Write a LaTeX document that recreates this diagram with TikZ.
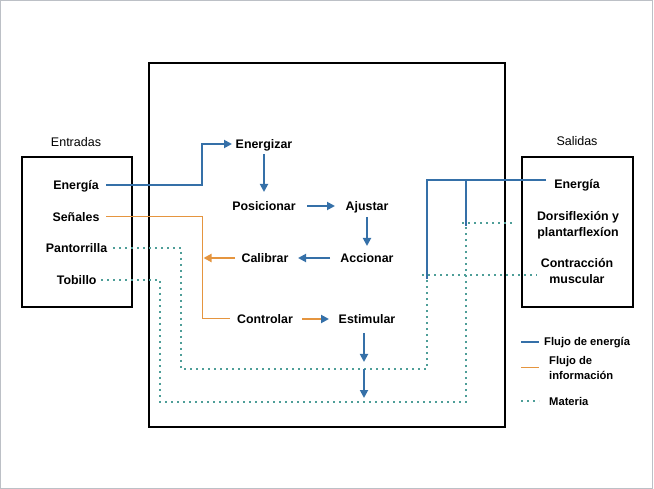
\documentclass[tikz,border=0pt]{standalone}
\usepackage{fontspec}
\setmainfont{Liberation Sans}
\usetikzlibrary{arrows.meta}
\definecolor{eblue}{HTML}{3570A8}
\definecolor{iorange}{HTML}{E5953F}
\definecolor{mteal}{HTML}{4E9E98}
\definecolor{framegray}{HTML}{BCC0C6}
\begin{document}
\begin{tikzpicture}[x=1pt,y=-1pt,
  lbl/.style={font=\bfseries\fontsize{12.4}{16}\selectfont, inner sep=0pt, text height=9pt, text depth=0pt},
  lbltwo/.style={font=\bfseries\fontsize{12.4}{16}\selectfont, inner sep=0pt, align=center},
  leg/.style={font=\bfseries\fontsize{11.2}{15}\selectfont, inner sep=0pt, anchor=west, align=left},
  hand/.style={font=\fontsize{12.5}{14}\selectfont, inner sep=0pt},
  boxline/.style={draw=black, line width=2.2pt},
  en/.style={draw=eblue, line width=1.8pt},
  inf/.style={draw=iorange, line width=1pt},
  infb/.style={draw=iorange, line width=2pt},
  mat/.style={draw=mteal, line width=1.8pt, dash pattern=on 1.8pt off 4.2pt},
  tip/.style={-{Triangle[length=8pt,width=8pt]}},
]
\useasboundingbox (0,0) rectangle (654,489);
\draw[framegray, line width=1.2pt] (0.6,0.6) rectangle (652.8,488.4);

% boxes
\draw[boxline] (148.7,63) rectangle (505,427);
\draw[boxline] (21.7,157) rectangle (131.7,306.7);
\draw[boxline] (522.3,157) rectangle (633,306.7);

% headings
\node[hand] (hin) at (76,142) {Entradas};
\node[hand] (hout) at (577,141) {Salidas};

% inputs
\node[lbl] (eIn) at (76,185) {Energía};
\node[lbl] (sIn) at (76,217) {Señales};
\node[lbl] (pIn) at (76.5,248) {Pantorrilla};
\node[lbl] (tIn) at (76.7,280) {Tobillo};

% functions
\node[lbl] (enz) at (264,144) {Energizar};
\node[lbl] (pos) at (264,206) {Posicionar};
\node[lbl] (aju) at (367,206) {Ajustar};
\node[lbl] (acc) at (367,258) {Accionar};
\node[lbl] (cal) at (265,258) {Calibrar};
\node[lbl] (con) at (265,319) {Controlar};
\node[lbl] (est) at (367,319) {Estimular};

% outputs
\node[lbl] (eOut) at (577,184) {Energía};
\node[lbltwo] (dors) at (578,225) {Dorsiflexión y\\plantarflexíon};
\node[lbltwo] (contr) at (577,271.5) {Contracción\\muscular};

% legend
\node[leg, text height=8pt, text depth=0pt] (leg1) at (544,342) {Flujo de energía};
\node[leg] (leg2) at (549,367.5) {Flujo de\\información};
\node[leg, text height=8pt, text depth=0pt] (leg3) at (549,401) {Materia};
\draw[en] ([xshift=-23pt]leg1.west) -- ([xshift=-5pt]leg1.west);
\draw[inf] ([xshift=-28pt]leg2.west) -- ([xshift=-10pt]leg2.west);
\draw[mat] ([xshift=-28pt]leg3.west) -- ([xshift=-10pt]leg3.west);

% junction coordinates
\coordinate (jA) at (427,279);
\coordinate (jB) at (466,226);

% material flows (dotted)
\draw[mat] ([xshift=36.5pt]pIn.center) -| (181,369) -| (jA);
\draw[mat] ([xshift=24.3pt]tIn.center) -| (160,402) -| (jB);
\draw[mat] ([xshift=-155pt,yshift=-3.5pt]contr.center) -- ([xshift=-40pt,yshift=-3.5pt]contr.center);
\draw[mat] ([xshift=-116pt,yshift=2pt]dors.center) -- ([xshift=-63pt,yshift=2pt]dors.center);

% energy flows
\draw[en, tip] ([xshift=30pt]eIn.center) -| ([xshift=-62pt]enz.center) -- ([xshift=-32pt]enz.center);
\draw[en, tip] ([yshift=-10pt]enz.center) -- ([yshift=-48pt]enz.center);
\draw[en, tip] ([xshift=43pt]pos.center) -- ([xshift=-32pt]aju.center);
\draw[en, tip] ([yshift=-11pt]aju.center) -- ([yshift=12pt]acc.center);
\draw[en, tip] ([xshift=-37pt]acc.center) -- ([xshift=33pt]cal.center);
\draw[en, tip] ([xshift=-3pt,yshift=-14pt]est.center) -- ([xshift=-3pt,yshift=-43pt]est.center);
\draw[en, tip] ([xshift=-3pt,yshift=-50pt]est.center) -- ([xshift=-3pt,yshift=-79pt]est.center);
\draw[en] ([xshift=-31pt,yshift=4pt]eOut.center) -| (jA);
\draw[en] ([xshift=-111pt,yshift=2.5pt]eOut.center) -- (jB);

% information flows
\draw[inf] ([xshift=30pt]sIn.center) -| ([xshift=-63pt]con.center) -- ([xshift=-35pt]con.center);
\draw[infb, tip] ([xshift=-30pt]cal.center) -- ([xshift=-61.5pt]cal.center);
\draw[infb, -{Triangle[length=8pt,width=8pt,color=eblue]}] ([xshift=37pt]con.center) -- ([xshift=-38pt]est.center);
\end{tikzpicture}
\end{document}
